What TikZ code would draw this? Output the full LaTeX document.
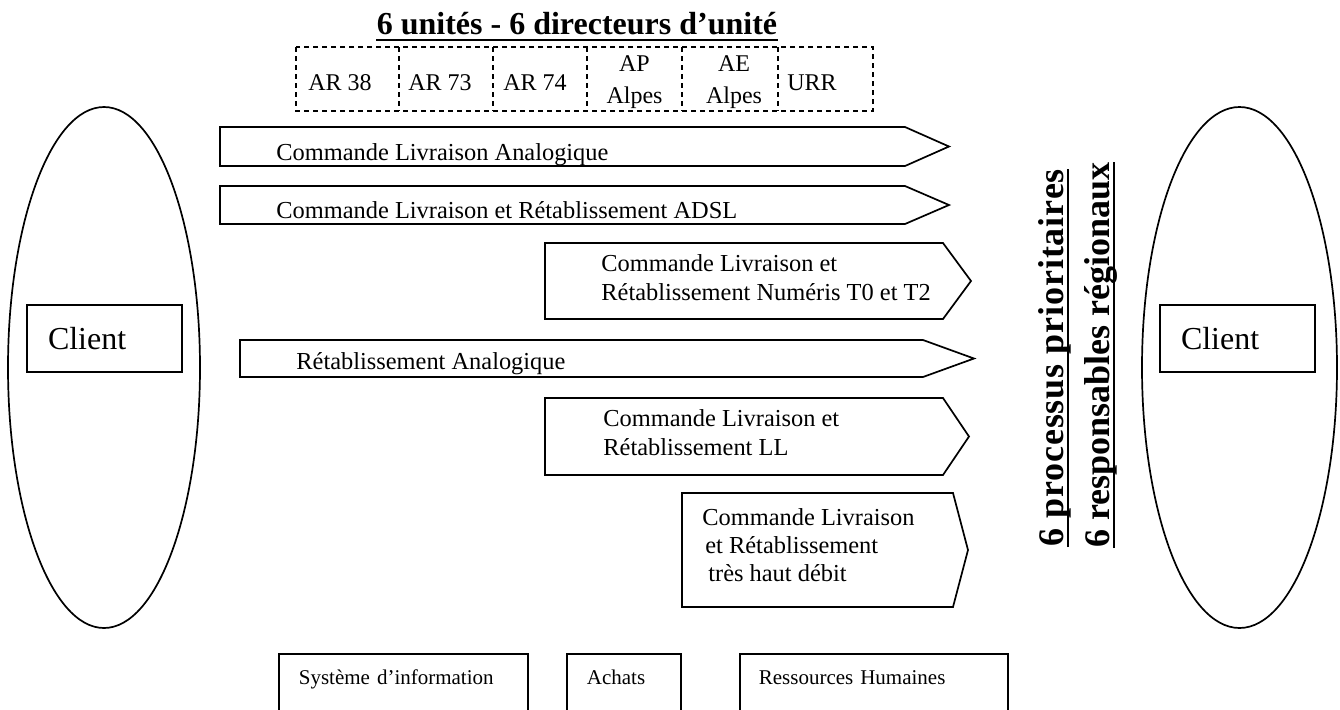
\documentclass[tikz,border=0pt]{standalone}
\usepackage{fontspec}
\setmainfont{Liberation Serif}
\usetikzlibrary{shapes.geometric}
\newcommand\mylines[2][l]{\begin{tabular}[t]{@{}#1@{}}#2\end{tabular}}
\newcommand\procarrow[5]{\draw[proc] (#1,#2) -- (#4,#2) -- (#5,{(#2+#3)/2}) -- (#4,#3) -- (#1,#3) -- cycle;}
\tikzset{
  proc/.style={draw, line width=0.85pt, line join=miter},
  ptext/.style={anchor=base west, inner sep=0, font=\fontsize{12.2}{14.8}\selectfont},
  cell/.style={anchor=base west, inner sep=0, font=\fontsize{12}{16}\selectfont},
  cellc/.style={anchor=base, inner sep=0, font=\fontsize{12}{16}\selectfont},
  cellframe/.style={line width=1pt, dash pattern=on 2.5pt off 2pt},
  client/.style={draw, line width=0.85pt, minimum width=77.5pt, minimum height=33.5pt,
    inner xsep=10.5pt, text width=56.5pt, align=left, font=\fontsize{16}{19}\selectfont},
  clientell/.style={ellipse, draw, line width=0.85pt, inner sep=0,
    minimum width=96pt, minimum height=260.5pt},
  support/.style={draw, line width=0.85pt, anchor=north west, align=left,
    text height=8pt, text depth=15pt, inner ysep=7.5pt, inner xsep=10pt,
    font=\fontsize{10.5}{13}\selectfont},
  heading/.style={inner sep=0, anchor=base, font=\bfseries\fontsize{16}{19}\selectfont},
  side/.style={inner sep=0, rotate=90, anchor=base west, font=\bfseries\fontsize{18}{21}\selectfont},
  uline/.style={line width=1.3pt},
}
\begin{document}
\begin{tikzpicture}[x=0.5pt, y=-0.5pt]
\fill[white] (0,0) rectangle (1340,709);
\useasboundingbox (0,0) rectangle (1340,709);

% title and units
\node[heading] (title) at (577,34) {6 unités - 6 directeurs d’unité};
\draw[uline] ([yshift=-3pt]title.base west) -- ([yshift=-3pt]title.base east);

\draw[cellframe] (296,47) rectangle (873,111);
\foreach \x in {399,493,587,682,778} \draw[cellframe] (\x,47) -- (\x,111);
\node[cell] (ar38) at (308,90) {AR 38};
\node[cell] (ar73) at (408,90) {AR 73};
\node[cell] (ar74) at (503,90) {AR 74};
\node[cellc] (ap) at (634.5,71) {\mylines[c]{AP\\Alpes}};
\node[cellc] (ae) at (734,71) {\mylines[c]{AE\\Alpes}};
\node[cell] (urr) at (787,90) {URR};

% clients
\node[clientell] (ellL) at (104,367.5) {};
\node[clientell, minimum width=97.5pt] (ellR) at (1239.5,367.5) {};
\node[client] (clientL) at (104.5,338.5) {Client};
\node[client] (clientR) at (1237.5,338.5) {Client};

% process arrows
\procarrow{220}{127}{166}{905}{949}
\node[ptext] (p1) at (276,160) {Commande Livraison Analogique};
\procarrow{220}{186}{224}{905}{949}
\node[ptext] (p2) at (276,218) {Commande Livraison et Rétablissement ADSL};
\procarrow{545}{243}{319}{943}{971}
\node[ptext] (p3) at (601,271) {\mylines{Commande Livraison et\\Rétablissement Numéris T0 et T2}};
\procarrow{240}{340}{377}{923}{974}
\node[ptext] (p4) at (296,369) {Rétablissement Analogique};
\procarrow{545}{398}{475}{943}{969}
\node[ptext] (p5) at (603,426) {\mylines{Commande Livraison et\\Rétablissement LL}};
\procarrow{682}{493}{607}{953}{968}
\node[ptext, font=\fontsize{12.2}{14.2}\selectfont] (p6) at (702,525)
  {\mylines{Commande Livraison\\\hspace*{1.5pt}et Rétablissement\\\hspace*{3pt}très haut débit}};

% side headings
\node[side, font=\bfseries\fontsize{18}{21}\selectfont\addfontfeature{LetterSpace=2.5}] (side1) at (1063,547) {6 processus prioritaires};
\draw[uline] ([xshift=2.5pt]side1.base west) -- ([xshift=2.5pt]side1.base east);
\node[side] (side2) at (1109,548) {6 responsables régionaux};
\draw[uline] ([xshift=2.5pt]side2.base west) -- ([xshift=2.5pt]side2.base east);

% support functions
\node[support, text width=104.5pt] (si) at (278,653) {Système d’information};
\node[support, text width=37pt] (achats) at (566,653) {Achats};
\node[support, inner xsep=9.5pt, text width=115pt] (rh) at (739,653) {Ressources Humaines};
\end{tikzpicture}
\end{document}
